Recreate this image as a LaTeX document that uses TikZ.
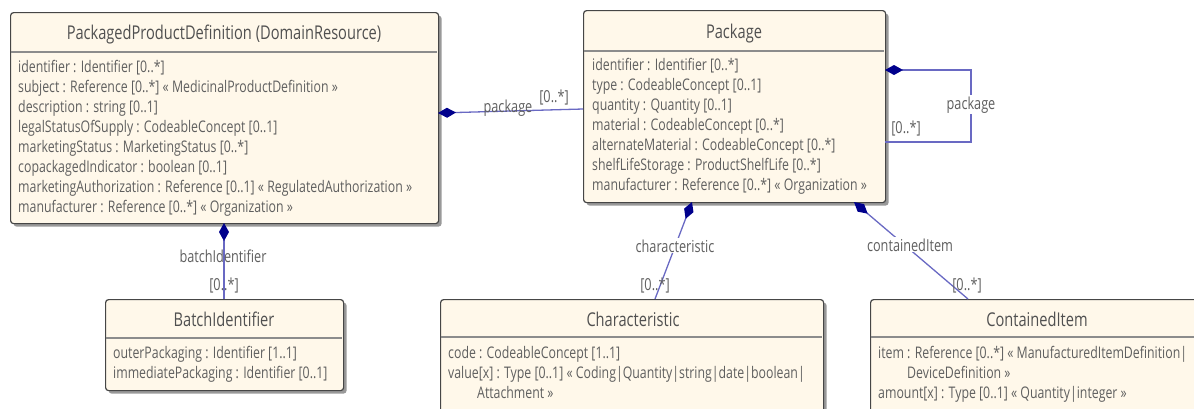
\documentclass[tikz,border=0pt]{standalone}
\usepackage{fontspec}
\setmainfont{Open Sans}[FakeStretch=0.77]
\usetikzlibrary{shadows,arrows.meta}
\definecolor{boxfill}{RGB}{255,248,234}
\definecolor{boxdraw}{RGB}{70,70,70}
\definecolor{sepline}{RGB}{140,140,140}
\definecolor{txt}{RGB}{95,95,95}
\definecolor{ttl}{RGB}{80,80,80}
\definecolor{link}{RGB}{105,105,195}
\definecolor{dia}{RGB}{0,0,140}
\begin{document}
\begin{tikzpicture}[x=1pt,y=-1pt,
  classbox/.style={draw=boxdraw, line width=1.2pt, fill=boxfill, rounded corners=3pt, inner sep=0pt, anchor=north west,
    drop shadow={shadow xshift=3pt, shadow yshift=-3pt, opacity=0.4, fill=black}},
  sep/.style={draw=sepline, line width=1.6pt},
  attr/.style={anchor=base west, inner sep=0pt, text=txt, font=\fontsize{16}{19}\selectfont},
  title/.style={anchor=base, inner sep=0pt, text=ttl, font=\fontsize{19}{22}\selectfont},
  lbl/.style={anchor=base, inner sep=1pt, text=txt, font=\fontsize{16.5}{19}\selectfont},
  wlbl/.style={lbl, fill=white},
  assoc/.style={draw=link, line width=1.3pt, {Diamond[length=18pt,width=10pt,color=dia]}-},
]
\clip (0,0) rectangle (1194,408);
\useasboundingbox (0,0) rectangle (1194,408);

% ---------- PackagedProductDefinition ----------
\node[classbox, minimum width=428pt, minimum height=211pt] (ppd) at (10,12) {};
\draw[sep] (10.6,52) -- (437.4,52);
\node[title] (ppdt) at (224,39) {PackagedProductDefinition (DomainResource)};
\node[attr] (ppd1) at (18,72) {identifier : Identifier [0..*]};
\node[attr] (ppd2) at (18,92) {subject : Reference [0..*] « MedicinalProductDefinition »};
\node[attr] (ppd3) at (18,112) {description : string [0..1]};
\node[attr] (ppd4) at (18,132) {legalStatusOfSupply : CodeableConcept [0..1]};
\node[attr] (ppd5) at (18,152) {marketingStatus : MarketingStatus [0..*]};
\node[attr] (ppd6) at (18,172) {copackagedIndicator : boolean [0..1]};
\node[attr] (ppd7) at (18,192) {marketingAuthorization : Reference [0..1] « RegulatedAuthorization »};
\node[attr] (ppd8) at (18,212) {manufacturer : Reference [0..*] « Organization »};

% ---------- Package ----------
\node[classbox, minimum width=302pt, minimum height=192pt] (pkg) at (583,10) {};
\draw[sep] (583.6,51) -- (884.4,51);
\node[title] (pkgt) at (734,38) {Package};
\node[attr] (pkg1) at (592,70) {identifier : Identifier [0..*]};
\node[attr] (pkg2) at (592,90) {type : CodeableConcept [0..1]};
\node[attr] (pkg3) at (592,110) {quantity : Quantity [0..1]};
\node[attr] (pkg4) at (592,130) {material : CodeableConcept [0..*]};
\node[attr] (pkg5) at (592,150) {alternateMaterial : CodeableConcept [0..*]};
\node[attr] (pkg6) at (592,170) {shelfLifeStorage : ProductShelfLife [0..*]};
\node[attr] (pkg7) at (592,190) {manufacturer : Reference [0..*] « Organization »};

% ---------- BatchIdentifier ----------
\node[classbox, minimum width=238pt, minimum height=91pt] (bat) at (105,299) {};
\draw[sep] (105.6,338) -- (342.4,338);
\node[title] (batt) at (224,326) {BatchIdentifier};
\node[attr] (bat1) at (113,358) {outerPackaging : Identifier [1..1]};
\node[attr] (bat2) at (113,378) {immediatePackaging : Identifier [0..1]};

% ---------- Characteristic ----------
\node[classbox, minimum width=383pt, minimum height=140pt] (chr) at (440,299) {};
\draw[sep] (440.6,337) -- (822.4,337);
\node[title] (chrt) at (633,326) {Characteristic};
\node[attr] (chr1) at (448,358) {code : CodeableConcept [1..1]};
\node[attr] (chr2) at (448,378) {value[x] : Type [0..1] « Coding|Quantity|string|date|boolean|};
\node[attr] (chr3) at (477,398) {Attachment »};

% ---------- ContainedItem ----------
\node[classbox, minimum width=340pt, minimum height=140pt] (ci) at (870,299) {};
\draw[sep] (870.6,337) -- (1209,337);
\node[title] (cit) at (1037,326) {ContainedItem};
\node[attr] (ci1) at (878,358) {item : Reference [0..*] « ManufacturedItemDefinition|};
\node[attr] (ci2) at (907,378) {DeviceDefinition »};
\node[attr] (ci3) at (878,398) {amount[x] : Type [0..1] « Quantity|integer »};

% ---------- connectors ----------
\coordinate (p1) at (438,113); \coordinate (p2) at (583,109);
\draw[assoc] (p1) -- (p2);
\node[lbl] (pl) at (508,112) {package};
\node[lbl] (pm) at (554,102) {[0..*]};

\coordinate (s1) at (885,70); \coordinate (s2) at (971,70);
\coordinate (s3) at (971,142); \coordinate (s4) at (885,142);
\draw[assoc] (s1) -- (s2) -- (s3) -- (s4);
\node[wlbl] (sl) at (971,109) {package};
\node[lbl] (sm) at (906,133) {[0..*]};

\coordinate (b1) at (224,223); \coordinate (b2) at (224,299);
\draw[assoc] (b1) -- (b2);
\node[lbl] (bl) at (223,262) {batchIdentifier};
\node[lbl] (bm) at (224,290) {[0..*]};

\coordinate (c1) at (692,202); \coordinate (c2) at (655,299);
\draw[assoc] (c1) -- (c2);
\node[wlbl] (cl) at (675,252) {characteristic};
\node[lbl] (cm) at (655,290) {[0..*]};

\coordinate (k1) at (854,202); \coordinate (k2) at (968,299);
\draw[assoc] (k1) -- (k2);
\node[wlbl] (kl) at (910,251) {containedItem};
\node[lbl] (km) at (967,290) {[0..*]};
\end{tikzpicture}
\end{document}
